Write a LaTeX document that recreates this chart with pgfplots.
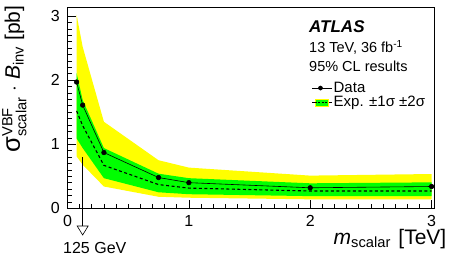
\documentclass[border=0pt]{standalone}
\usepackage{amsmath}
\usepackage{fontspec}
\setmainfont{Liberation Sans}
\usepackage{pgfplots}
\pgfplotsset{compat=1.18}
\definecolor{rootyellow}{RGB}{255,255,0}
\definecolor{rootgreen}{RGB}{0,255,0}
\begin{document}
\begin{tikzpicture}
\useasboundingbox (-67.5pt,-53.7pt) rectangle (381.5pt,208.3pt);
\begin{axis}[
  at={(0,0)}, anchor=south west,
  scale only axis, width=366.5pt, height=200.6pt,
  xmin=0, xmax=3.02, ymin=0, ymax=3.13,
  xtick={0,1,2,3}, ytick={0,1,2,3},
  minor x tick num=9, minor y tick num=9,
  xtick pos=lower, ytick pos=left,
  major tick length=8pt, minor tick length=4pt,
  tick style={black, line width=0.6pt},
  axis line style={line width=0.8pt},
  clip=false,
  /pgf/number format/assume math mode=true,
  ticklabel style={font=\fontsize{16}{18}\selectfont},
  xticklabel style={inner sep=0pt, yshift=-6.7pt, anchor=north},
  yticklabel style={inner sep=0pt, xshift=-7.5pt, anchor=east},
  legend style={draw=none, fill=none, at={(axis description cs:0.667,0.635)}, anchor=north west,
    font=\fontsize{15}{17}\selectfont, inner sep=0pt, row sep=0.5pt,
    nodes={inner sep=1pt}},
  legend cell align=left,
]
% 2 sigma band
\addplot[fill=rootyellow, draw=none, forget plot] coordinates {
  (0.075,3.02) (0.125,2.52) (0.3,1.35) (0.75,0.75) (1,0.635) (2,0.51) (3,0.535)
  (3,0.14) (2,0.14) (1,0.165) (0.75,0.18) (0.3,0.34) (0.125,0.68) (0.075,0.81)
} -- cycle;
% 1 sigma band
\addplot[fill=rootgreen, draw=none, forget plot] coordinates {
  (0.075,2.11) (0.125,1.69) (0.3,0.94) (0.75,0.54) (1,0.47) (2,0.39) (3,0.405)
  (3,0.19) (2,0.19) (1,0.22) (0.75,0.25) (0.3,0.47) (0.125,0.94) (0.075,1.09)
} -- cycle;
% expected
\addplot[black, line width=1.1pt, dash pattern=on 3pt off 2.5pt, forget plot] coordinates {
  (0.075,1.52) (0.125,1.29) (0.3,0.67) (0.75,0.37) (1,0.315) (2,0.27) (3,0.27)
};
% observed
\addplot[black, line width=0.6pt, mark=*, mark size=2.3pt, forget plot] coordinates {
  (0.075,1.97) (0.125,1.61) (0.3,0.87) (0.75,0.48) (1,0.40) (2,0.32) (3,0.34)
};
\addlegendimage{legend image code/.code={
  \path (0pt,0pt) -- (20pt,0pt);
  \draw[black, line width=0.6pt] (0pt,0pt) -- (16pt,0pt);
  \fill[black] (8pt,0pt) circle (2.1pt);}}
\addlegendentry{Data}
\addlegendimage{legend image code/.code={
  \path (0pt,0pt) -- (20pt,0pt);
  \fill[rootyellow] (2.3pt,-3.6pt) rectangle (15.3pt,3.6pt);
  \fill[rootgreen] (3.3pt,-2.4pt) rectangle (14.3pt,2.4pt);
  \draw[black, line width=1.1pt, dash pattern=on 2pt off 1.5pt] (2.3pt,0pt) -- (15.3pt,0pt);}}
\addlegendentry{Exp. ±1σ ±2σ}
% 125 GeV arrow
\draw[black, line width=0.6pt] (axis cs:0.125,0.8) -- (axis cs:0.125,0) -- ++(0,-17.7pt);
\draw[black, line width=0.6pt, fill=white] (axis cs:0.125,0) ++(-5.5pt,-17.7pt) -- ++(11pt,0) -- ++(-5.5pt,-9pt) -- cycle;
\end{axis}
\node[anchor=base west, inner sep=0pt, font=\fontsize{16}{18}\selectfont] at (-4.5pt,-44.7pt) {125 GeV};
\node[anchor=base east, inner sep=0pt, font=\fontsize{21}{23}\selectfont] at (379pt,-36pt)
  {\textit{m}$_{\text{scalar}}$\hspace{0.08em} [TeV]};
\node[anchor=base east, inner sep=0pt, rotate=90, font=\fontsize{21}{23}\selectfont] at (-47.5pt,203pt)
  {{\fontsize{25.5}{26}\selectfont σ}$^{\text{VBF}}_{\text{scalar}}$ $\cdot$ \textit{B}$_{\text{inv}}$ [pb]};
\node[anchor=base west, inner sep=0pt, font=\fontsize{17}{19}\selectfont\bfseries\itshape] at (241.5pt,175.3pt) {ATLAS};
\node[anchor=base west, inner sep=0pt, font=\fontsize{14.5}{17}\selectfont] at (241.5pt,155.3pt) {13 TeV, 36 fb$^{\text{-1}}$};
\node[anchor=base west, inner sep=0pt, font=\fontsize{14.5}{17}\selectfont] at (241.5pt,136.3pt) {95\% CL results};
\end{tikzpicture}
\end{document}
